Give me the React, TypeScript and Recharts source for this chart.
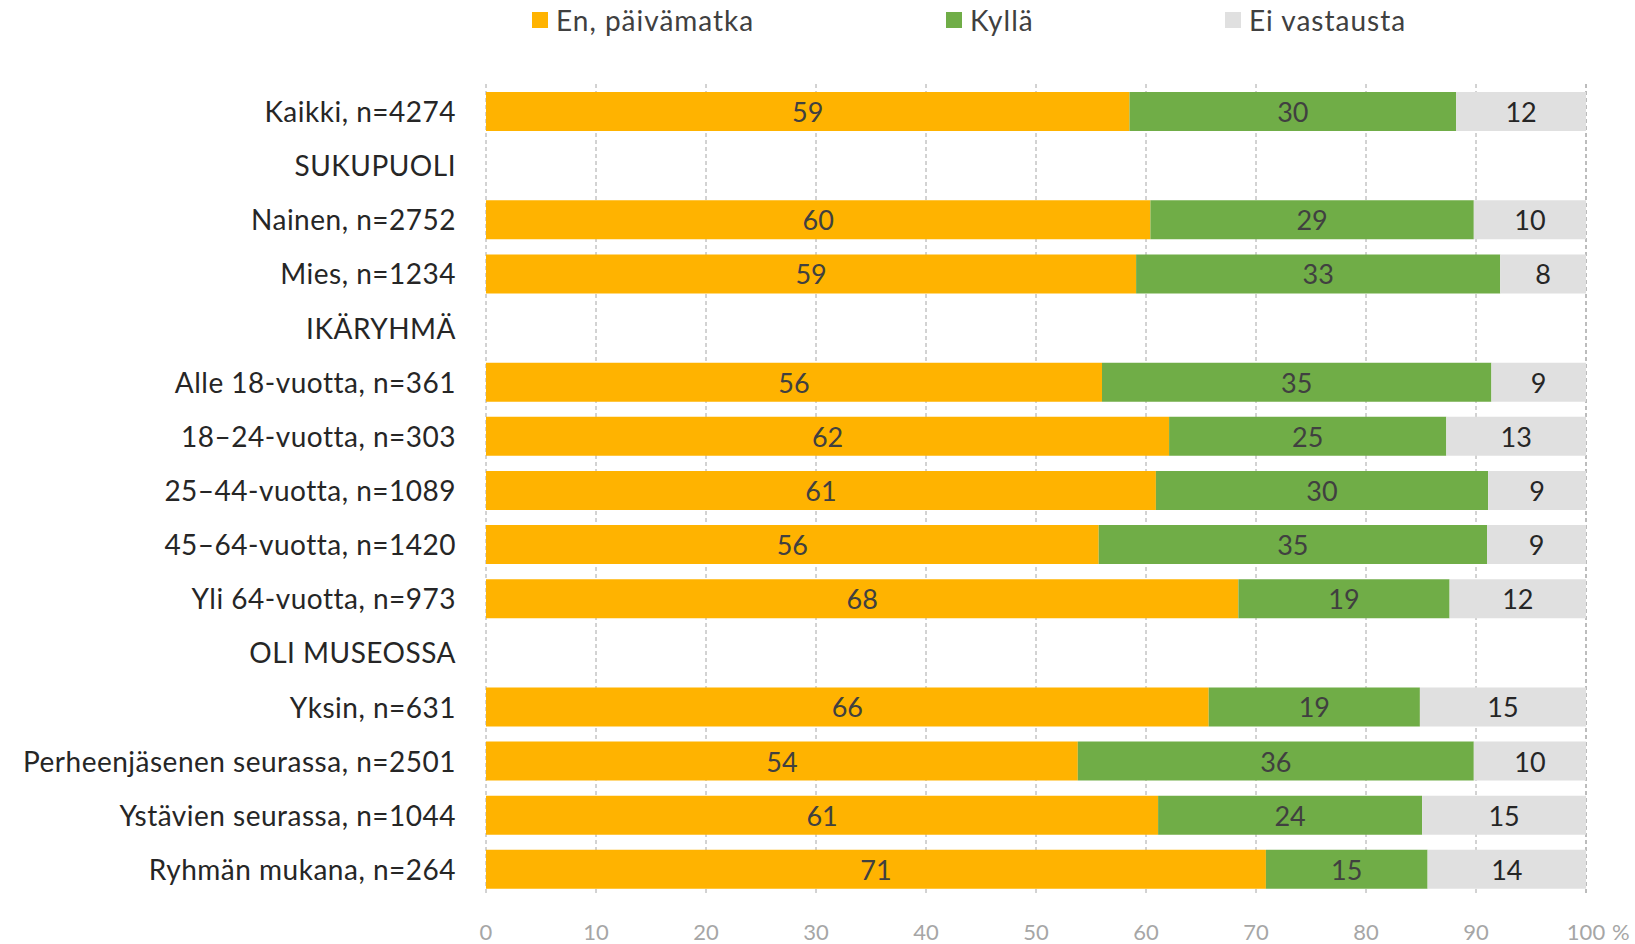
import React from 'react';
import { BarChart, Bar, XAxis, YAxis, CartesianGrid, LabelList } from 'recharts';

const categories = [
  'Kaikki, n=4274',
  'SUKUPUOLI',
  'Nainen, n=2752',
  'Mies, n=1234',
  'IKÄRYHMÄ',
  'Alle 18-vuotta, n=361',
  '18–24-vuotta, n=303',
  '25–44-vuotta, n=1089',
  '45–64-vuotta, n=1420',
  'Yli 64-vuotta, n=973',
  'OLI MUSEOSSA',
  'Yksin, n=631',
  'Perheenjäsenen seurassa, n=2501',
  'Ystävien seurassa, n=1044',
  'Ryhmän mukana, n=264',
];

const enPaivamatka = [58.5, null, 60.4, 59.1, null, 56.0, 62.1, 60.9, 55.7, 68.4, null, 65.7, 53.8, 61.1, 70.9];
const kylla = [29.7, null, 29.4, 33.1, null, 35.4, 25.2, 30.2, 35.3, 19.2, null, 19.2, 36.0, 24.0, 14.7];
const eiVastausta = [11.8, null, 10.2, 7.8, null, 8.6, 12.7, 8.9, 9.0, 12.4, null, 15.1, 10.2, 14.9, 14.4];

const xTicks = [0, 10, 20, 30, 40, 50, 60, 70, 80, 90, 100];

const seriesNames = ['En, päivämatka', 'Kyllä', 'Ei vastausta'];
const seriesColors = ['#FFB300', '#70AD47', '#E0E0E0'];

const data = categories.map((name, i) => ({
  name,
  en: enPaivamatka[i],
  kylla: kylla[i],
  ei: eiVastausta[i],
}));

const FONT = 'Lato, "Open Sans", sans-serif';

const YTick = (props: any) => {
  const { x, y, payload } = props;
  return (
    <text
      x={x}
      y={y}
      textAnchor="end"
      dominantBaseline="central"
      fontFamily={FONT}
      fontSize={28}
      letterSpacing={0.5}
      fill="#262626"
    >
      {payload.value}
    </text>
  );
};

const XTick = (props: any) => {
  const { x, y, payload } = props;
  if (payload.value === 100) {
    return (
      <g>
        <text x={x} y={y} textAnchor="middle" dominantBaseline="central" fontFamily={FONT} fontSize={22} fill="#a6a6a6">
          100
        </text>
        <text x={x + 26} y={y} textAnchor="start" dominantBaseline="central" fontFamily={FONT} fontSize={22} fill="#a6a6a6">
          %
        </text>
      </g>
    );
  }
  return (
    <text x={x} y={y} textAnchor="middle" dominantBaseline="central" fontFamily={FONT} fontSize={22} fill="#a6a6a6">
      {payload.value}
    </text>
  );
};

const makeLabel = (color: string) => (props: any) => {
  const { x, y, width, height, value } = props;
  if (value === null || value === undefined) return null;
  return (
    <text
      x={x + width / 2}
      y={y + height / 2}
      textAnchor="middle"
      dominantBaseline="central"
      fontFamily={FONT}
      fontSize={27}
      fill={color}
    >
      {Math.round(value)}
    </text>
  );
};

const legendX = [532, 946, 1225];

const LegendBox = () => (
  <div style={{ position: 'absolute', left: 0, top: 0, width: 1635, height: 40 }}>
    {seriesNames.map((n, i) => (
      <div
        key={n}
        style={{
          position: 'absolute',
          left: legendX[i],
          top: 2,
          display: 'flex',
          alignItems: 'center',
          fontFamily: FONT,
          fontSize: 28,
          letterSpacing: 1,
          color: '#404040',
          whiteSpace: 'nowrap',
          lineHeight: '36px',
        }}
      >
        <span style={{ display: 'inline-block', width: 16, height: 16, background: seriesColors[i], marginRight: 8 }} />
        <span>{n}</span>
      </div>
    ))}
  </div>
);

export default function App() {
  return (
    <div style={{ position: 'absolute', left: 0, top: 0, width: 1635, height: 944, background: '#fff' }}>
      <BarChart
        width={1635}
        height={944}
        data={data}
        layout="vertical"
        margin={{ top: 84, right: 49, bottom: 0, left: 0 }}
        barSize={39}
      >
        <CartesianGrid horizontal={false} stroke="#a6a6a6" strokeDasharray="4 3" />
        <XAxis
          type="number"
          domain={[0, 100]}
          ticks={xTicks}
          axisLine={false}
          tickLine={false}
          tickSize={0}
          tickMargin={35}
          height={48}
          tick={<XTick />}
          interval={0}
        />
        <YAxis
          type="category"
          dataKey="name"
          width={486}
          axisLine={false}
          tickLine={false}
          tickSize={0}
          tickMargin={30}
          tick={<YTick />}
          interval={0}
        />
        <Bar dataKey="en" stackId="a" fill={seriesColors[0]} name={seriesNames[0]} isAnimationActive={false}>
          <LabelList dataKey="en" content={makeLabel('#404040')} />
        </Bar>
        <Bar dataKey="kylla" stackId="a" fill={seriesColors[1]} name={seriesNames[1]} isAnimationActive={false}>
          <LabelList dataKey="kylla" content={makeLabel('#404040')} />
        </Bar>
        <Bar dataKey="ei" stackId="a" fill={seriesColors[2]} name={seriesNames[2]} isAnimationActive={false}>
          <LabelList dataKey="ei" content={makeLabel('#262626')} />
        </Bar>
      </BarChart>
      <LegendBox />
    </div>
  );
}
